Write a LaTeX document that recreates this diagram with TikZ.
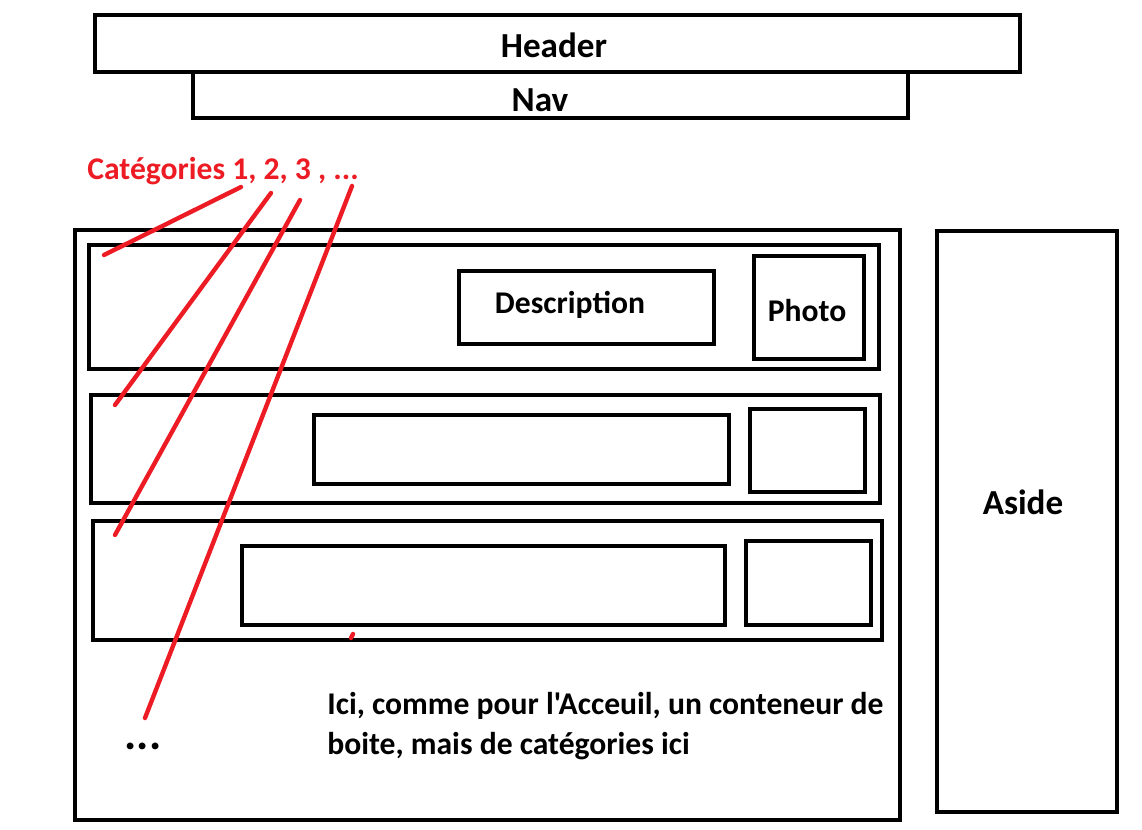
\documentclass[tikz,border=0pt]{standalone}
\usepackage{fontspec}
\setmainfont{Carlito}[Ligatures=TeXOff]
\usetikzlibrary{fit}
\definecolor{paintred}{RGB}{237,28,36}
\tikzset{
  box/.style={draw,line width=2.8pt,inner sep=0pt},
  txt/.style={font=\fontsize{18}{22.7}\selectfont\bfseries},
  bigtxt/.style={font=\fontsize{20}{24}\selectfont\bfseries},
  redline/.style={draw=paintred,line width=2.5pt,line cap=round}
}
\begin{document}
\begin{tikzpicture}[x=0.02cm,y=-0.02cm]
\useasboundingbox (0,0) rectangle (1142,830);
% header and nav
\node[box,fit={(95,15)(1020,72)}] (header) {};
\node[box,fit={(193,72)(908,118)}] (nav) {};
\node[bigtxt] (headertxt) at (554,45) {Header};
\node[bigtxt] (navtxt) at (540,100) {Nav};
% main container and aside
\node[box,fit={(75,230)(900,820)}] (main) {};
\node[box,fit={(937,231)(1117,812)}] (aside) {};
\node[bigtxt] (asidetxt) at (1023,502) {Aside};
% rows
\node[box,fit={(89,245)(879,369)}] (row1) {};
\node[box,fit={(459,271)(714,344)}] (desc1) {};
\node[box,fit={(754,256)(864,359)}] (photo1) {};
\node[txt] (desctxt) at (570,305) {Description};
\node[txt] (phototxt) at (807,311) {Photo};
\node[box,fit={(91,395)(880,503)}] (row2) {};
\node[box,fit={(314,415)(729,484)}] (desc2) {};
\node[box,fit={(750,409)(865,492)}] (photo2) {};
\node[box,fit={(93,521)(882,640)}] (row3) {};
\node[box,fit={(242,546)(725,625)}] (desc3) {};
\node[box,fit={(746,541)(871,625)}] (photo3) {};
% categories
\node[txt,text=paintred,anchor=west,inner sep=0pt] (cat) at (87,171) {Catégories 1, 2, 3 , ...};
\coordinate (c1) at (241,187);
\coordinate (c2) at (271,193);
\coordinate (c3) at (300,200);
\coordinate (c4) at (352,186);
\coordinate (e1) at (104,255);
\coordinate (e2) at (115,405);
\coordinate (e3) at (115,535);
\coordinate (e4) at (145,718);
\draw[redline] (c1) -- (e1);
\draw[redline] (c2) -- (e2);
\draw[redline] (c3) -- (e3);
\draw[redline] (c4) -- (e4);
\coordinate (dota) at (351,638);
\coordinate (dotb) at (353,634);
\draw[redline] (dota) -- (dotb);
\node[font=\fontsize{26}{26}\selectfont\bfseries] (more) at (143,746) {...};
\node[txt,align=left,anchor=north west,inner sep=0pt] (note) at (327,692)
  {Ici, comme pour l'Acceuil, un conteneur de\\boite, mais de catégories ici};
\end{tikzpicture}
\end{document}
